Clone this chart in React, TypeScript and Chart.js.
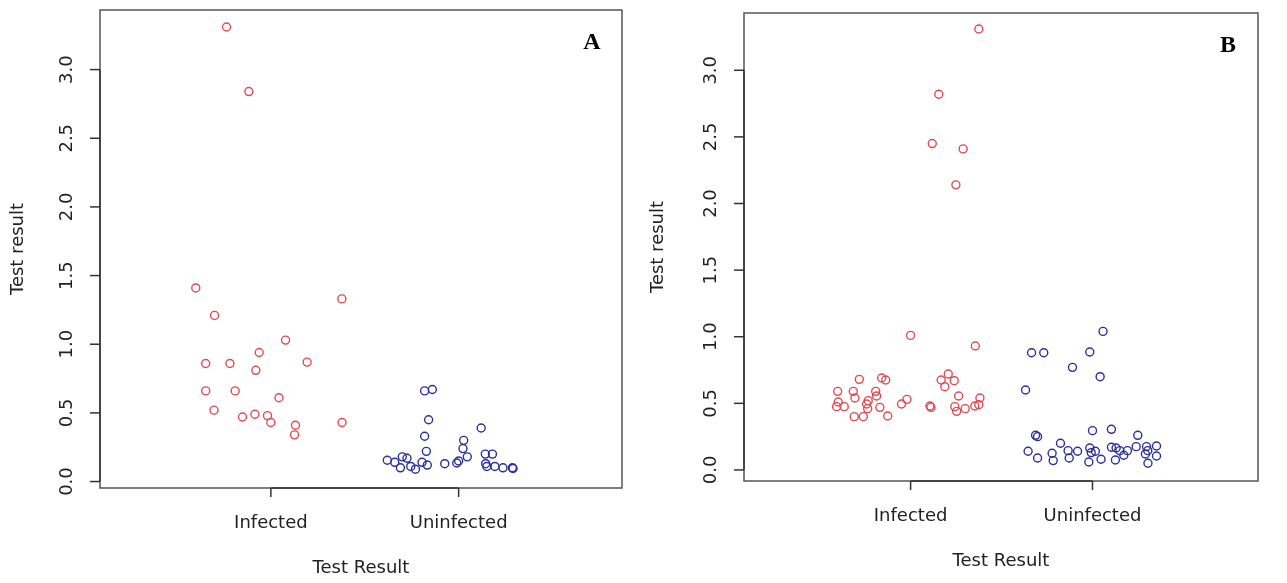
import React, { useEffect, useRef } from "react";
import { Chart, registerables } from "chart.js";
Chart.register(...registerables);

const categories = ["Infected", "Uninfected"];
const yTicks = [0, 0.5, 1, 1.5, 2, 2.5, 3];
const yTickLabels = ["0.0", "0.5", "1.0", "1.5", "2.0", "2.5", "3.0"];

// Panel A: [x jitter position, value]
const aInfected: [number, number][] = [
  [0.764, 3.31], [0.883, 2.84], [0.6, 1.41], [0.7, 1.21], [1.378, 1.33], [1.078, 1.03],
  [0.938, 0.94], [0.653, 0.86], [0.782, 0.86], [1.193, 0.87], [0.92, 0.81], [0.653, 0.66],
  [0.81, 0.66], [1.043, 0.61], [0.697, 0.52], [0.849, 0.47], [0.915, 0.49], [0.982, 0.48],
  [1.0, 0.43], [1.131, 0.41], [1.126, 0.34], [1.379, 0.43],
];
const aUninfected: [number, number][] = [
  [1.819, 0.66], [1.86, 0.67], [1.84, 0.45], [1.819, 0.33], [1.828, 0.22], [2.12, 0.39],
  [2.027, 0.3], [2.023, 0.24], [2.046, 0.18], [2.142, 0.2], [2.18, 0.2], [1.62, 0.155],
  [1.66, 0.14], [1.7, 0.18], [1.725, 0.17], [1.69, 0.1], [1.745, 0.11], [1.77, 0.09],
  [1.805, 0.14], [1.833, 0.12], [1.926, 0.13], [1.99, 0.135], [2.0, 0.15], [2.144, 0.13],
  [2.15, 0.11], [2.193, 0.11], [2.236, 0.1], [2.286, 0.1], [2.29, 0.095],
];
// Panel B
const bInfected: [number, number][] = [
  [1.375, 3.31], [1.155, 2.82], [1.119, 2.45], [1.289, 2.41], [1.249, 2.14], [1.0, 1.01],
  [1.356, 0.93], [0.718, 0.68], [0.841, 0.69], [0.863, 0.675], [0.599, 0.59], [0.685, 0.59],
  [0.808, 0.59], [0.694, 0.54], [0.813, 0.555], [0.767, 0.52], [0.602, 0.51], [0.758, 0.495],
  [0.593, 0.475], [0.635, 0.475], [0.764, 0.46], [0.831, 0.47], [0.98, 0.53], [0.95, 0.495],
  [0.69, 0.4], [0.74, 0.4], [0.874, 0.405], [1.207, 0.72], [1.168, 0.675], [1.24, 0.67],
  [1.188, 0.625], [1.264, 0.555], [1.106, 0.48], [1.112, 0.47], [1.243, 0.475], [1.253, 0.44],
  [1.3, 0.46], [1.381, 0.54], [1.353, 0.48], [1.375, 0.49],
];
const bUninfected: [number, number][] = [
  [2.058, 1.04], [1.665, 0.88], [1.732, 0.88], [1.985, 0.885], [1.89, 0.77], [2.042, 0.7],
  [1.632, 0.6], [1.687, 0.26], [1.698, 0.25], [2.0, 0.295], [2.104, 0.305], [2.249, 0.26],
  [1.824, 0.2], [1.646, 0.14], [1.698, 0.09], [1.778, 0.125], [1.784, 0.07], [1.866, 0.145],
  [1.872, 0.09], [1.918, 0.14], [1.985, 0.165], [1.993, 0.13], [2.016, 0.14], [1.98, 0.06],
  [2.047, 0.08], [2.104, 0.17], [2.13, 0.165], [2.15, 0.145], [2.192, 0.145], [2.126, 0.075],
  [2.172, 0.11], [2.24, 0.175], [2.297, 0.175], [2.304, 0.145], [2.352, 0.18], [2.291, 0.12],
  [2.352, 0.105], [2.305, 0.05],
];

const RED = "#e04a50";
const BLUE = "#2e2e9c";
const FONT = "'DejaVu Sans', sans-serif";

type PanelProps = {
  left: number; width: number; letter: string;
  inf: [number, number][]; un: [number, number][];
  plot: { l: number; r: number; t: number; b: number };
  xr: [number, number]; yr: [number, number];
};

function Panel(p: PanelProps) {
  const ref = useRef<HTMLCanvasElement>(null);
  useEffect(() => {
    const H = 583;
    const deco = {
      id: "deco",
      afterDraw(chart: any) {
        const ctx = chart.ctx;
        const a = chart.chartArea;
        const xs = chart.scales.x, ys = chart.scales.y;
        ctx.save();
        ctx.strokeStyle = "#555";
        ctx.lineWidth = 1.5;
        ctx.strokeRect(a.left, a.top, a.right - a.left, a.bottom - a.top);
        ctx.strokeStyle = "#333";
        ctx.fillStyle = "#222";
        // y axis
        const y0 = ys.getPixelForValue(yTicks[0]);
        const y1 = ys.getPixelForValue(yTicks[yTicks.length - 1]);
        ctx.beginPath();
        ctx.moveTo(a.left, y0); ctx.lineTo(a.left, y1);
        ctx.stroke();
        ctx.font = `18px ${FONT}`;
        ctx.textAlign = "center";
        ctx.textBaseline = "middle";
        yTicks.forEach((v, i) => {
          const y = ys.getPixelForValue(v);
          ctx.beginPath(); ctx.moveTo(a.left - 10, y); ctx.lineTo(a.left, y); ctx.stroke();
          ctx.save();
          ctx.translate(a.left - 33, y);
          ctx.rotate(-Math.PI / 2);
          ctx.fillText(yTickLabels[i], 0, 0);
          ctx.restore();
        });
        // x axis
        const xa = xs.getPixelForValue(1), xb = xs.getPixelForValue(2);
        ctx.beginPath();
        ctx.moveTo(xa, a.bottom); ctx.lineTo(xb, a.bottom);
        ctx.moveTo(xa, a.bottom); ctx.lineTo(xa, a.bottom + 9);
        ctx.moveTo(xb, a.bottom); ctx.lineTo(xb, a.bottom + 9);
        ctx.stroke();
        categories.forEach((c, i) => {
          ctx.fillText(c, xs.getPixelForValue(i + 1), a.bottom + 35);
        });
        ctx.fillText("Test Result", (a.left + a.right) / 2, a.bottom + 80);
        ctx.save();
        ctx.translate(18, (a.top + a.bottom) / 2);
        ctx.rotate(-Math.PI / 2);
        ctx.fillText("Test result", 0, 0);
        ctx.restore();
        ctx.font = `bold 24px 'Liberation Serif', serif`;
        ctx.fillStyle = "#000";
        ctx.fillText(p.letter, a.right - 30, a.top + 33);
        ctx.restore();
      },
    };
    const mk = (d: [number, number][], col: string) => ({
      data: d.map(([x, y]) => ({ x, y })),
      borderColor: col,
      backgroundColor: "rgba(0,0,0,0)",
      pointRadius: 4,
      pointBorderWidth: 1.4,
    });
    const chart = new Chart(ref.current!, {
      type: "scatter",
      data: { datasets: [mk(p.inf, RED), mk(p.un, BLUE)] },
      options: {
        animation: false,
        responsive: false,
        layout: { padding: { top: p.plot.t, right: p.width - p.plot.r, left: 0, bottom: 0 } },
        plugins: { legend: { display: false }, tooltip: { enabled: false } },
        scales: {
          x: {
            type: "linear", min: p.xr[0], max: p.xr[1],
            grid: { display: false }, border: { display: false },
            ticks: { display: false },
            afterFit: (s: any) => { s.height = H - p.plot.b; },
          },
          y: {
            type: "linear", min: p.yr[0], max: p.yr[1],
            grid: { display: false }, border: { display: false },
            ticks: { display: false },
            afterFit: (s: any) => { s.width = p.plot.l; },
          },
        },
      },
      plugins: [deco],
    });
    return () => chart.destroy();
  }, []);
  return (
    <canvas ref={ref} width={p.width} height={583}
      style={{ position: "absolute", left: p.left, top: 0, width: p.width, height: 583 }} />
  );
}

export default function App() {
  return (
    <div style={{ position: "fixed", left: 0, top: 0, width: 1287, height: 583, background: "#fff" }}>
      <Panel left={0} width={640} letter="A" inf={aInfected} un={aUninfected}
        plot={{ l: 100, r: 622, t: 10, b: 488 }} xr={[0.09, 2.87]} yr={[-0.047, 3.434]} />
      <Panel left={640} width={647} letter="B" inf={bInfected} un={bUninfected}
        plot={{ l: 104, r: 618, t: 13, b: 481 }} xr={[0.084, 2.91]} yr={[-0.083, 3.43]} />
    </div>
  );
}
